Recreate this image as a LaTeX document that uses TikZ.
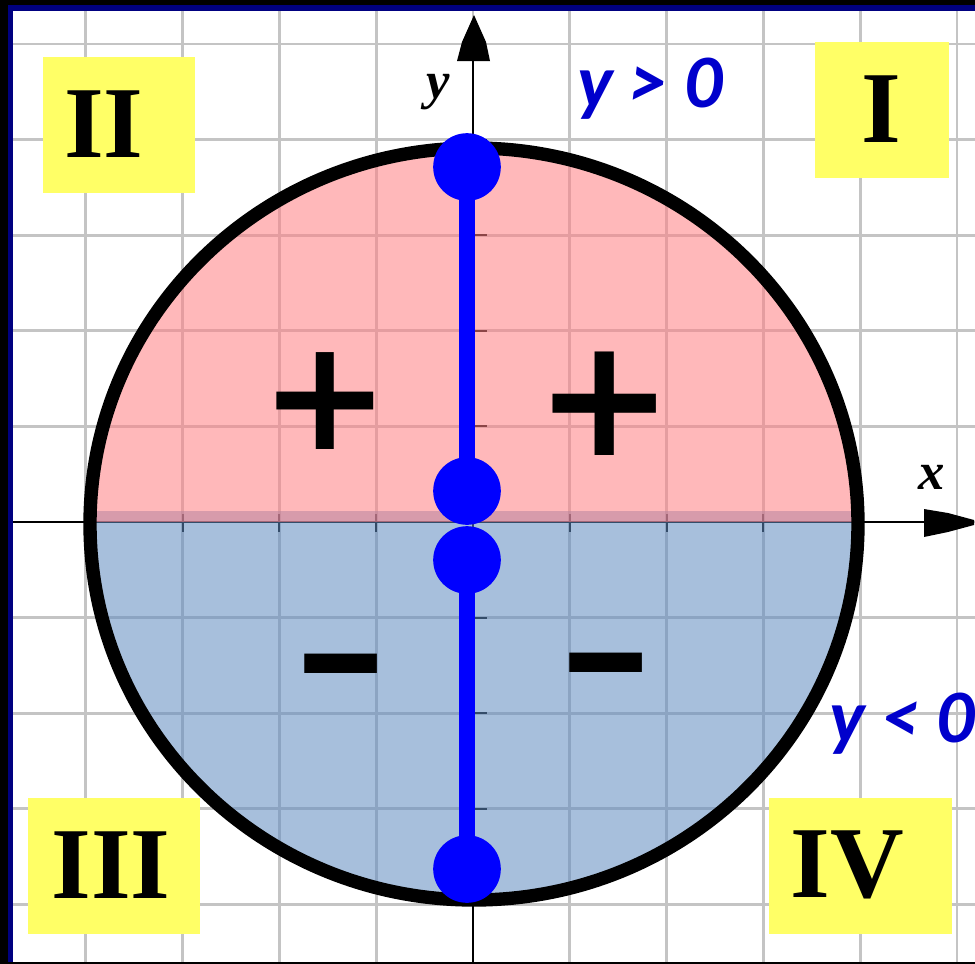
\documentclass[tikz,border=0pt]{standalone}
\usepackage{fontspec}
\setmainfont{Liberation Serif}
\newfontfamily\calfont{Carlito}
\newfontfamily\djfont{DejaVu Sans}
\definecolor{navyb}{RGB}{0,0,128}
\definecolor{gridc}{RGB}{196,196,196}
\definecolor{pinkc}{RGB}{255,126,131}
\definecolor{bluec}{RGB}{95,139,193}
\definecolor{yelc}{RGB}{255,255,102}
\definecolor{txtblue}{RGB}{0,0,204}
\definecolor{dotblue}{RGB}{0,0,255}
\begin{document}
\begin{tikzpicture}[x=0.02cm,y=-0.02cm,
  gridline/.style={draw=gridc, line width=1.7pt},
  axisline/.style={draw=black, line width=1.7pt},
  tickline/.style={draw=black, line width=1.2pt},
  bdot/.style={circle, fill=dotblue, draw=none, minimum size=38.5pt, inner sep=0pt},
  bbar/.style={draw=dotblue, line width=9.1pt},
  roman/.style={font=\bfseries\fontsize{58}{58}\selectfont, inner sep=0pt},
  yelbox/.style={fill=yelc},
  axlabel/.style={font=\bfseries\itshape\fontsize{30}{30}\selectfont, inner sep=0pt},
  cond/.style={font=\calfont\bfseries\itshape\fontsize{43}{43}\selectfont, text=txtblue, anchor=base west, inner sep=0pt},
  signp/.style={font=\djfont\bfseries\fontsize{88}{88}\selectfont, inner sep=0pt},
  signm/.style={font=\djfont\bfseries\fontsize{66}{66}\selectfont, inner sep=0pt}]
\useasboundingbox (0,0) rectangle (975,964);
% frame
\fill[black] (0,0) rectangle (975,964);
\fill[navyb] (8,5) rectangle (975,962);
\fill[white] (13,11) rectangle (975,962);
% grid
\begin{scope}
\clip (13,11) rectangle (975,962);
\foreach \k in {-4,...,5} { \draw[gridline] ({473+96.8*\k},11) -- ({473+96.8*\k},962); }
\foreach \k in {-5,...,4} { \draw[gridline] (13,{522+95.6*\k}) -- (975,{522+95.6*\k}); }
\end{scope}
% axes
\draw[axisline] (13,522) -- (926,522);
\draw[axisline] (473,964) -- (473,58);
\foreach \k in {-3,-2,-1,1,2,3} { \draw[tickline] ({473+96.8*\k},514) -- ({473+96.8*\k},532); }
\foreach \k in {-4,-3,-2,-1,1,2,3} { \draw[tickline] (473,{522+95.6*\k}) -- (487,{522+95.6*\k}); }
% half-disc fills
\begin{scope}
\clip (0,511) rectangle (975,964);
\fill[bluec, fill opacity=0.55] (474,524) ellipse [x radius=384, y radius=376];
\end{scope}
\begin{scope}
\clip (0,0) rectangle (975,521);
\fill[pinkc, fill opacity=0.55] (474,524) ellipse [x radius=384, y radius=376];
\end{scope}
% circle outline
\draw[black, line width=7.6pt] (474,524) ellipse [x radius=384, y radius=376];
% arrowheads
\fill[black] (924,509) -- (948,513) -- (974,520) -- (974,525) -- (948,532) -- (924,537) -- cycle;
\fill[black] (474,15) -- (486,42) -- (490,61) -- (457,61) -- (462,42) -- cycle;
% axis labels
\node[axlabel] (xl) at (932,477) {x};
\node[axlabel] (yl) at (438,92) {y};
% blue segments
\node[bdot] (d1) at (467,167) {};
\node[bdot] (d2) at (467,491) {};
\node[bdot] (d3) at (467,560) {};
\node[bdot] (d4) at (467,869) {};
\draw[bbar] (d1.center) -- (d2.center);
\draw[bbar] (d3.center) -- (d4.center);
% signs
\node[signp] (p1) at (325,401) {+};
\node[signp, font=\djfont\bfseries\fontsize{94}{94}\selectfont] (p2) at (605,404) {+};
\node[signm] (m1) at (341,685) {\scalebox{1}[1.45]{−}};
\node[signm] (m2) at (606,684) {\scalebox{1}[1.45]{−}};
% quadrant boxes
\fill[yelbox] (43,57) rectangle (195,193);
\fill[yelbox] (815,42) rectangle (949,178);
\fill[yelbox] (28,798) rectangle (200,934);
\fill[yelbox] (769,798) rectangle (952,934);
\node[roman] (q2) at (104,124) {II};
\node[roman] (q1) at (881,109) {I};
\node[roman] (q3) at (111,865) {III};
\node[roman] (q4) at (847,865) {IV};
% conditions
\node[cond] (ypos) at (577,107) {y > 0};
\node[cond] (yneg) at (829,742) {y < 0};
\end{tikzpicture}
\end{document}
